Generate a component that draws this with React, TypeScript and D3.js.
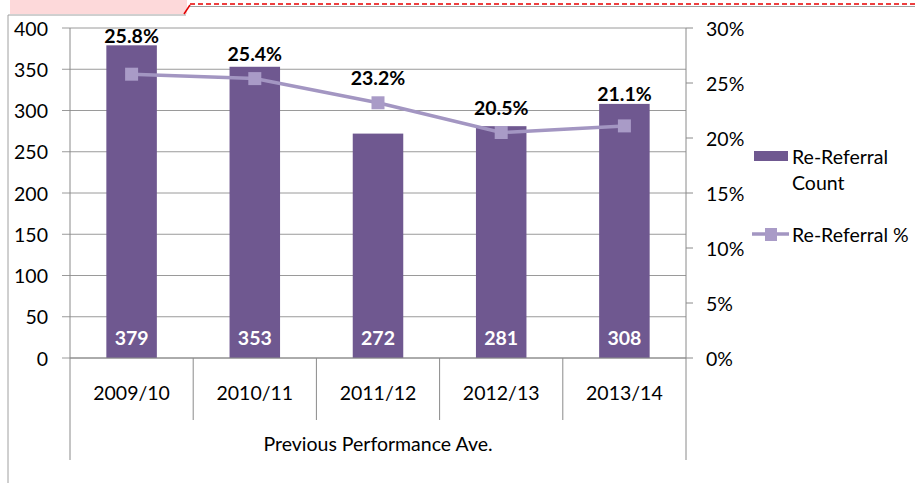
import React from "react";
import * as d3 from "d3";

const categories = ["2009/10", "2010/11", "2011/12", "2012/13", "2013/14"];
const counts = [379, 353, 272, 281, 308];
const percents = [25.8, 25.4, 23.2, 20.5, 21.1];
const leftTicks = [0, 50, 100, 150, 200, 250, 300, 350, 400];
const rightTicks = [0, 5, 10, 15, 20, 25, 30];
const groupLabel = "Previous Performance Ave.";
const seriesNames = ["Re-Referral Count", "Re-Referral %"];

const FONT = "Lato, 'Open Sans', sans-serif";
const FS = 19.5;
const BAR = "#6F5890";
const LINE = "#A396C2";
const MARK = "#A99BC7";
const GRID = "#9A9A9A";
const AXIS = "#8A8A8A";

export default function App() {
  const left = 70, right = 686, top = 28, bottom = 358;
  const x = d3.scaleBand<string>().domain(categories).range([left, right]).padding(0);
  const yL = d3.scaleLinear().domain([0, 400]).range([bottom, top]);
  const yR = d3.scaleLinear().domain([0, 30]).range([bottom, top]);
  const bw = x.bandwidth() * 0.41;
  const cx = (c: string) => (x(c) as number) + x.bandwidth() / 2;
  const line = d3
    .line<number>()
    .x((_, i) => cx(categories[i]))
    .y((d) => yR(d));

  return (
    <svg
      width={915}
      height={483}
      style={{ position: "absolute", left: 0, top: 0, background: "#fff" }}
      fontFamily={FONT}
    >
      {/* frame decoration */}
      <rect x={10} y={0} width={177} height={14} fill="#FDD9DA" />
      <line x1={8} y1={15} x2={186} y2={15} stroke="#A0A0A0" strokeWidth={1} />
      <line x1={8} y1={15} x2={8} y2={483} stroke="#A0A0A0" strokeWidth={1} />
      <line x1={184} y1={14} x2={190} y2={5} stroke="#E00000" strokeWidth={1.5} />
      <line x1={190} y1={6.5} x2={915} y2={6.5} stroke="#A0A0A0" strokeWidth={1} />
      <line x1={190} y1={4} x2={915} y2={4} stroke="#E80000" strokeWidth={1.5} strokeDasharray="5,3" />

      {/* gridlines */}
      {leftTicks.map((t) => (
        <line key={"g" + t} x1={left - 8} x2={right} y1={yL(t)} y2={yL(t)} stroke={GRID} strokeWidth={1} />
      ))}
      {/* left axis labels */}
      {leftTicks.map((t) => (
        <text key={"l" + t} x={48} y={yL(t)} textAnchor="end" dominantBaseline="central" fontSize={FS} fill="#000">
          {t}
        </text>
      ))}
      {/* right axis */}
      {rightTicks.map((t) => (
        <g key={"r" + t}>
          <line x1={right} x2={right + 7} y1={yR(t)} y2={yR(t)} stroke={AXIS} />
          <text x={706} y={yR(t)} dominantBaseline="central" fontSize={FS} fill="#000">
            {t}%
          </text>
        </g>
      ))}
      <line x1={left} x2={left} y1={top} y2={460} stroke={AXIS} />
      <line x1={right} x2={right} y1={top} y2={460} stroke={AXIS} />

      {/* category separators */}
      {categories.map((c, i) =>
        i === 0 ? null : (
          <line key={"s" + c} x1={x(c)} x2={x(c)} y1={bottom} y2={420} stroke={AXIS} />
        )
      )}
      {categories.map((c) => (
        <text key={"c" + c} x={cx(c)} y={392} textAnchor="middle" dominantBaseline="central" fontSize={FS} fill="#000">
          {c}
        </text>
      ))}
      <text x={(left + right) / 2} y={443} textAnchor="middle" dominantBaseline="central" fontSize={FS} fill="#000">
        {groupLabel}
      </text>

      {/* bars */}
      {categories.map((c, i) => (
        <rect key={"b" + c} x={cx(c) - bw / 2} y={yL(counts[i])} width={bw} height={bottom - yL(counts[i])} fill={BAR} />
      ))}
      <line x1={left} x2={right} y1={bottom} y2={bottom} stroke={AXIS} />
      {categories.map((c, i) => (
        <text key={"v" + c} x={cx(c)} y={337} textAnchor="middle" dominantBaseline="central" fontSize={FS} fontWeight="bold" fill="#fff">
          {counts[i]}
        </text>
      ))}

      {/* line */}
      <path d={line(percents) as string} fill="none" stroke={LINE} strokeWidth={3.5} />
      {categories.map((c, i) => (
        <rect key={"m" + c} x={cx(c) - 6.5} y={yR(percents[i]) - 6.5} width={13} height={13} fill={MARK} />
      ))}
      {categories.map((c, i) => {
        const ly = Math.min(yR(percents[i]) - 25, yL(counts[i]) - 10);
        return (
          <text key={"p" + c} x={cx(c)} y={ly} textAnchor="middle" dominantBaseline="central" fontSize={FS} fontWeight="bold" fill="#000">
            {percents[i].toFixed(1)}%
          </text>
        );
      })}

      {/* legend */}
      <rect x={754} y={151} width={34} height={10} fill={BAR} />
      <text x={792} y={156} dominantBaseline="central" fontSize={FS} fill="#000">Re-Referral</text>
      <text x={792} y={182} dominantBaseline="central" fontSize={FS} fill="#000">Count</text>
      <line x1={752} x2={789} y1={234} y2={234} stroke={LINE} strokeWidth={3.5} />
      <rect x={765} y={228} width={12} height={13} fill={MARK} />
      <text x={792} y={234} dominantBaseline="central" fontSize={FS} fill="#000">{seriesNames[1]}</text>
    </svg>
  );
}
